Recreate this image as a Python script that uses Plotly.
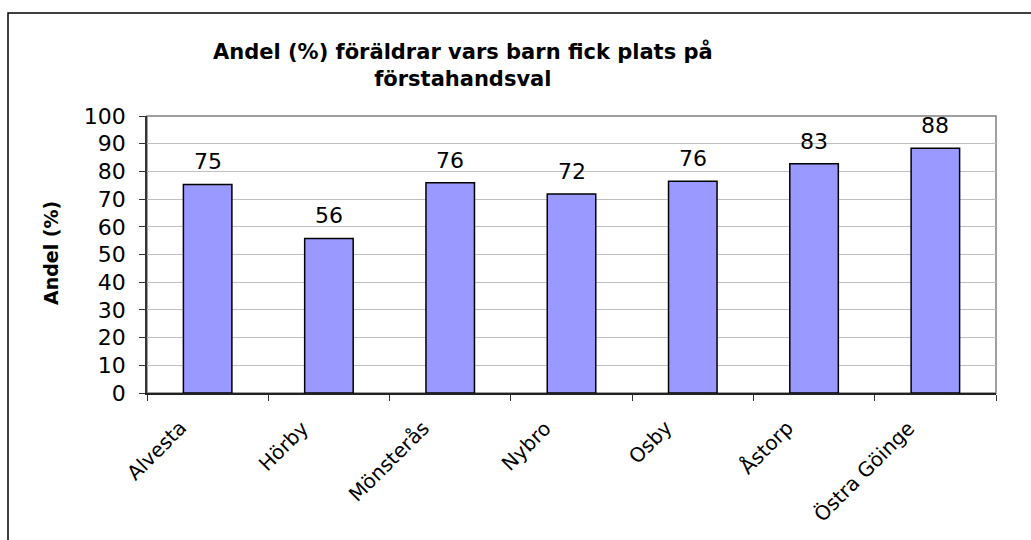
import plotly.graph_objects as go

categories = ["Alvesta", "Hörby", "Mönsterås", "Nybro", "Osby", "Åstorp", "Östra Göinge"]
values = [75.3, 55.8, 75.9, 71.8, 76.4, 82.8, 88.4]
labels = ["75", "56", "76", "72", "76", "83", "88"]
y_ticks = list(range(0, 101, 10))

W, H = 1031, 540
L, R, T, B = 147, 1031 - 996, 116, 540 - 393
pw, ph = W - L - R, H - T - B

def px(x):
    return (x - L) / pw

def py(y):
    return (H - B - y) / ph

font = "DejaVu Sans, Liberation Sans, Arial, sans-serif"

fig = go.Figure()
fig.add_trace(go.Bar(
    x=categories, y=values,
    marker=dict(color="#9999FF", line=dict(color="black", width=1.5)),
    width=0.4, hoverinfo="skip",
))

for c, v, t in zip(categories, values, labels):
    fig.add_annotation(x=c, y=v, text=t, showarrow=False, yanchor="bottom",
                       yshift=8, font=dict(family=font, size=22, color="black"))

# rotated category labels
for c in categories:
    fig.add_annotation(x=c, y=0, text=c, showarrow=False, textangle=-45,
                       xanchor="right", yanchor="top", xshift=-13, yshift=-20,
                       font=dict(family=font, size=20, color="black"))

# title
fig.add_annotation(xref="paper", yref="paper", x=px(463), y=py(65),
                   text="<b>Andel (%) föräldrar vars barn fick plats på<br>förstahandsval</b>",
                   showarrow=False, xanchor="center", yanchor="middle",
                   font=dict(family=font, size=21, color="black"))
# y axis title
fig.add_annotation(xref="paper", yref="paper", x=px(51), y=py(253),
                   text="<b>Andel (%)</b>", textangle=-90, showarrow=False,
                   xanchor="center", yanchor="middle",
                   font=dict(family=font, size=19, color="black"))

# plot-area border (top/right grey)
fig.add_shape(type="rect", xref="paper", yref="paper", x0=0, y0=0, x1=1, y1=1,
              line=dict(color="#808080", width=1.5), layer="below")
# outer chart border
fig.add_shape(type="rect", xref="paper", yref="paper",
              x0=px(8), y0=py(13), x1=px(1040), y1=py(560),
              line=dict(color="black", width=1.5))

fig.update_layout(
    width=W, height=H,
    margin=dict(l=L, r=R, t=T, b=B),
    paper_bgcolor="white", plot_bgcolor="white",
    showlegend=False,
    font=dict(family=font, color="black"),
    xaxis=dict(
        range=[-0.5, len(categories) - 0.5], autorange=False,
        showticklabels=False,
        ticks="outside", tickson="boundaries", ticklen=6, tickcolor="#333",
        showline=True, linecolor="#222", linewidth=1.5,
        showgrid=False,
    ),
    yaxis=dict(
        range=[0, 100], autorange=False, tickvals=y_ticks,
        tickfont=dict(family=font, size=22, color="black"),
        ticks="outside", ticklen=6, tickcolor="#333",
        ticklabelstandoff=9,
        showline=True, linecolor="#333", linewidth=1.5,
        showgrid=True, gridcolor="#c0c0c0", gridwidth=1,
        zeroline=False,
    ),
)

fig.write_html("out.html", config={"displayModeBar": False},
               post_script="document.body.style.margin='0';document.body.style.overflow='hidden';")
